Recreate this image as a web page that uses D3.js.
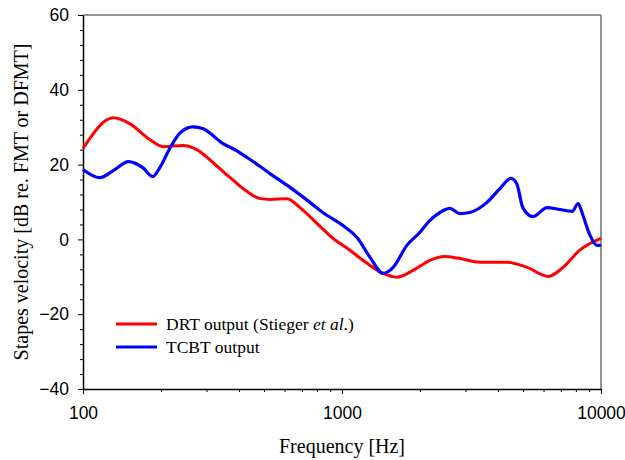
<!DOCTYPE html>
<html>
<head>
<meta charset="utf-8">
<script src="https://cdn.jsdelivr.net/npm/d3@7"></script>
<style>
  body { margin: 0; background: #fff; }
</style>
</head>
<body>
<div id="chart"></div>
<script>
// data (frequency in Hz, velocity in dB)
const drtFreq = [100, 131, 152, 181, 204, 243, 275, 318, 370, 430, 483, 527, 613, 688, 800, 922, 1073, 1250, 1442, 1630, 1880, 2186, 2480, 2800, 3420, 4330, 5190, 6260, 7140, 8300, 10000];
const drtVal  = [24.3, 32.5, 30.9, 26.7, 24.8, 25.1, 24.0, 20.5, 16.5, 12.8, 10.9, 10.7, 10.9, 8.5, 4.3, 0.3, -2.9, -6.4, -9.1, -10.1, -8.3, -5.6, -4.6, -5.0, -6.1, -6.1, -7.5, -9.9, -7.5, -2.8, 0.3];

const tcbtFreq = [100, 116, 131, 150, 170, 186, 198, 217, 237, 266, 291, 347, 393, 430, 483, 527, 630, 752, 843, 1009, 1143, 1283, 1442, 1576, 1780, 2000, 2186, 2330, 2610, 2850, 3110, 3630, 4070, 4490, 4730, 4990, 5460, 6200, 6940, 7740, 8160, 8520, 9070, 9650, 10000];
const tcbtVal  = [18.7, 16.5, 18.4, 20.8, 19.2, 16.8, 19.2, 24.5, 28.5, 30.1, 29.6, 25.6, 23.7, 21.9, 19.5, 17.6, 13.9, 9.9, 7.2, 3.7, 0.5, -4.8, -9.1, -7.5, -1.6, 1.9, 5.1, 6.7, 8.3, 6.9, 7.2, 9.9, 13.6, 16.3, 14.9, 8.5, 6.1, 8.5, 8.0, 7.5, 9.6, 6.4, 1.1, -1.6, -1.6];

const yTicks = [-40, -20, 0, 20, 40, 60];
const xTicks = [100, 1000, 10000];

const legendLabels = ["DRT output (Stieger ", "TCBT output"];

const W = 625, H = 460;
const margin = { top: 15, right: 24, bottom: 71, left: 83 };
const width = W - margin.left - margin.right;
const height = H - margin.top - margin.bottom;

const svg = d3.select("#chart").append("svg")
    .attr("width", W)
    .attr("height", H);

const g = svg.append("g")
    .attr("transform", `translate(${margin.left},${margin.top})`);

const x = d3.scaleLog().domain([100, 10000]).range([0, width]);
const y = d3.scaleLinear().domain([-40, 60]).range([height, 0]);

// top and right frame
g.append("line")
    .attr("x1", 0).attr("x2", width).attr("y1", 0).attr("y2", 0)
    .attr("stroke", "#707070").attr("stroke-width", 1.5);
g.append("line")
    .attr("x1", width).attr("x2", width).attr("y1", 0).attr("y2", height)
    .attr("stroke", "#707070").attr("stroke-width", 1.5);

// minor ticks
const yMinor = d3.range(-40, 61, 4).filter(v => v % 20 !== 0);
g.append("g")
    .call(d3.axisLeft(y).tickValues(yMinor).tickSize(3).tickFormat(""))
    .call(a => a.select(".domain").remove());

const xMinor = [];
[100, 1000].forEach(d => { for (let k = 2; k <= 9; k++) xMinor.push(d * k); });
g.append("g")
    .attr("transform", `translate(0,${height})`)
    .call(d3.axisBottom(x).tickValues(xMinor).tickSize(3).tickFormat(""))
    .call(a => a.select(".domain").remove());

// major axes
const yAxis = g.append("g")
    .call(d3.axisLeft(y).tickValues(yTicks).tickSize(5).tickPadding(9).tickSizeOuter(0));
const xAxis = g.append("g")
    .attr("transform", `translate(0,${height})`)
    .call(d3.axisBottom(x).tickValues(xTicks).tickSize(5).tickPadding(13).tickSizeOuter(0)
        .tickFormat(d3.format("d")));

[yAxis, xAxis].forEach(a => {
    a.selectAll("text")
        .attr("font-family", "Liberation Sans, Arial, sans-serif")
        .attr("font-size", "17.5px")
        .attr("fill", "#000");
    a.select(".domain").attr("stroke", "#000").attr("stroke-width", 1.5);
});
g.selectAll(".tick line").attr("stroke", "#000");

// curves
const line = d3.line()
    .x(d => x(d[0]))
    .y(d => y(d[1]))
    .curve(d3.curveMonotoneX);

const drt = drtFreq.map((f, i) => [f, drtVal[i]]);
const tcbt = tcbtFreq.map((f, i) => [f, tcbtVal[i]]);

g.append("path")
    .datum(drt)
    .attr("fill", "none")
    .attr("stroke", "#ff0000")
    .attr("stroke-width", 3)
    .attr("d", line);

g.append("path")
    .datum(tcbt)
    .attr("fill", "none")
    .attr("stroke", "#0000ff")
    .attr("stroke-width", 3.2)
    .attr("d", line);

// legend
const legend = g.append("g")
    .attr("transform", `translate(33, ${324 - margin.top})`);
const colors = ["#ff0000", "#0000ff"];
legendLabels.forEach((lab, i) => {
    const row = legend.append("g").attr("transform", `translate(0, ${i * 23})`);
    row.append("line")
        .attr("x1", 0).attr("x2", 41).attr("y1", 0).attr("y2", 0)
        .attr("stroke", colors[i]).attr("stroke-width", 3);
    const t = row.append("text")
        .attr("x", 50).attr("y", 6)
        .attr("font-family", "Liberation Serif, Times New Roman, serif")
        .attr("font-size", "17.5px")
        .attr("fill", "#000")
        .text(lab);
    if (i === 0) {
        t.append("tspan").attr("font-style", "italic").text("et al");
        t.append("tspan").text(".)");
    }
});

// axis titles
svg.append("text")
    .attr("x", margin.left + width / 2)
    .attr("y", 453)
    .attr("text-anchor", "middle")
    .attr("font-family", "Liberation Serif, Times New Roman, serif")
    .attr("font-size", "20px")
    .text("Frequency [Hz]");

svg.append("text")
    .attr("transform", `translate(28, ${margin.top + height / 2}) rotate(-90)`)
    .attr("text-anchor", "middle")
    .attr("font-family", "Liberation Serif, Times New Roman, serif")
    .attr("font-size", "20px")
    .text("Stapes velocity [dB re. FMT or DFMT]");
</script>
</body>
</html>
